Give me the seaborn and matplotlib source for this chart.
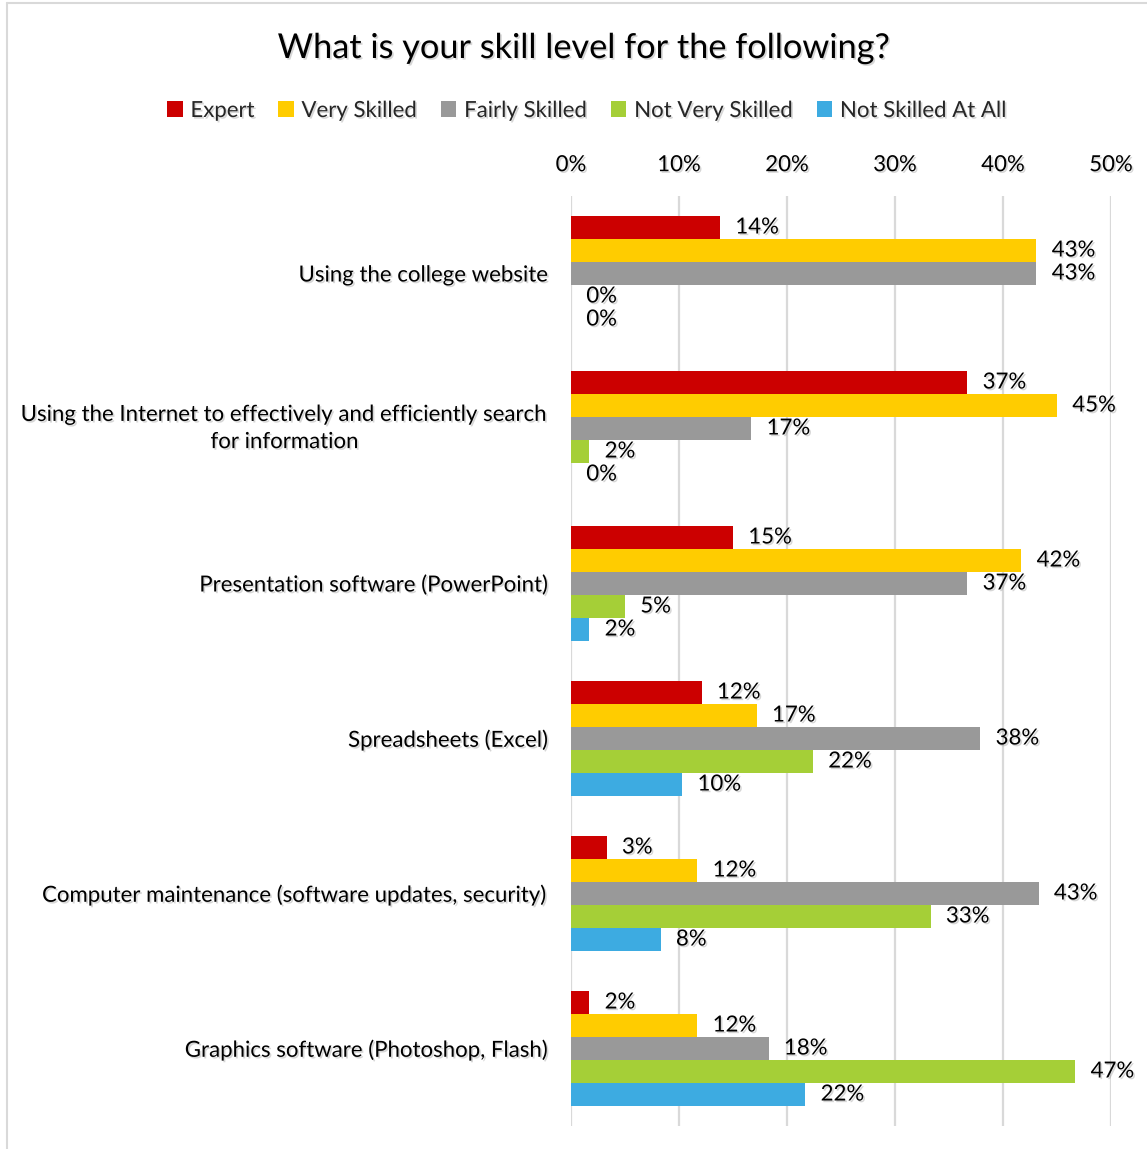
import matplotlib
matplotlib.use("Agg")
import matplotlib.pyplot as plt
import matplotlib.patheffects as pe
from matplotlib.ticker import PercentFormatter, FixedLocator
from matplotlib.lines import Line2D
import pandas as pd
import seaborn as sns

# Survey data: share of respondents per skill level
skills = [
    "Using the college website",
    "Using the Internet to effectively and efficiently search\nfor information",
    "Presentation software (PowerPoint)",
    "Spreadsheets (Excel)",
    "Computer maintenance (software updates, security)",
    "Graphics software (Photoshop, Flash)",
]
levels = ["Expert", "Very Skilled", "Fairly Skilled", "Not Very Skilled", "Not Skilled At All"]

expert = [0.138, 0.367, 0.150, 0.121, 0.033, 0.017]
very_skilled = [0.431, 0.450, 0.417, 0.172, 0.117, 0.117]
fairly_skilled = [0.431, 0.167, 0.367, 0.379, 0.433, 0.183]
not_very_skilled = [0.000, 0.017, 0.050, 0.224, 0.333, 0.467]
not_skilled_at_all = [0.000, 0.000, 0.017, 0.103, 0.083, 0.217]

colors = ["#CC0000", "#FFCC00", "#999999", "#A5CF37", "#3DABE1"]

series = [expert, very_skilled, fairly_skilled, not_very_skilled, not_skilled_at_all]
df = pd.DataFrame(
    [(s, lvl, v) for lvl, vals in zip(levels, series) for s, v in zip(skills, vals)],
    columns=["skill", "level", "share"],
)

sns.set_theme(style="white")
plt.rcParams["font.family"] = ["Lato", "DejaVu Sans"]

shadow = [pe.SimplePatchShadow(offset=(1.2, -1.2), shadow_rgbFace="0.55", alpha=0.35), pe.Normal()]
FS = 16

W, H = 1147, 1149
fig = plt.figure(figsize=(W / 100, H / 100), dpi=100)
ax = fig.add_axes([571 / W, 1 - 1126 / H, 540 / W, 930 / H])

sns.barplot(
    data=df, y="skill", x="share", hue="level",
    order=skills, hue_order=levels, palette=colors, saturation=1,
    width=0.742, orient="h", linewidth=0, edgecolor="none",
    legend=False, ax=ax, errorbar=None,
)

ax.set_xlim(0, 0.5)
ax.xaxis.set_major_locator(FixedLocator([0, 0.1, 0.2, 0.3, 0.4, 0.5]))
ax.xaxis.set_major_formatter(PercentFormatter(1, decimals=0))
ax.xaxis.tick_top()
ax.grid(axis="x", color="#D9D9D9", linewidth=1.6)
ax.set_axisbelow(True)
for sp in ax.spines.values():
    sp.set_visible(False)
ax.set_xlabel("")
ax.set_ylabel("")
ax.tick_params(axis="x", length=0, pad=15, labelsize=FS, colors="black")
ax.tick_params(axis="y", length=0, pad=16, labelsize=FS, colors="black")
for t in ax.get_yticklabels():
    t.set_multialignment("center")
    t.set_linespacing(1.45)
    if "\n" in t.get_text():
        t.set_verticalalignment("center")
    t.set_path_effects(shadow)
for t in ax.get_xticklabels():
    t.set_path_effects(shadow)

# Value labels at the end of each bar
for cont, vals in zip(ax.containers, series):
    labs = ax.bar_label(cont, labels=[f"{v:.0%}" for v in vals], padding=11,
                        fontsize=FS, color="black")
    for t in labs:
        t.set_path_effects(shadow)

# Title
fig.text(583 / W, 1 - 48 / H, "What is your skill level for the following?",
         ha="center", va="center", fontsize=24.7, color="black", path_effects=shadow)

# Legend
handles = [plt.Rectangle((0, 0), 1, 1, facecolor=c, edgecolor="none") for c in colors]
leg = fig.legend(handles, levels, loc="center", bbox_to_anchor=(587 / W, 1 - 111 / H),
                 ncol=5, frameon=False, fontsize=FS, handlelength=0.7, handleheight=0.7,
                 handletextpad=0.35, columnspacing=1.05)
for t in leg.get_texts():
    t.set_path_effects(shadow)

# Chart-area border
fig.add_artist(Line2D([7 / W, 7 / W], [0, 1 - 3 / H], color="#D9D9D9", linewidth=1.5))
fig.add_artist(Line2D([7 / W, 1], [1 - 3 / H, 1 - 3 / H], color="#D9D9D9", linewidth=1.5))

fig.savefig("out.png", dpi=100)
